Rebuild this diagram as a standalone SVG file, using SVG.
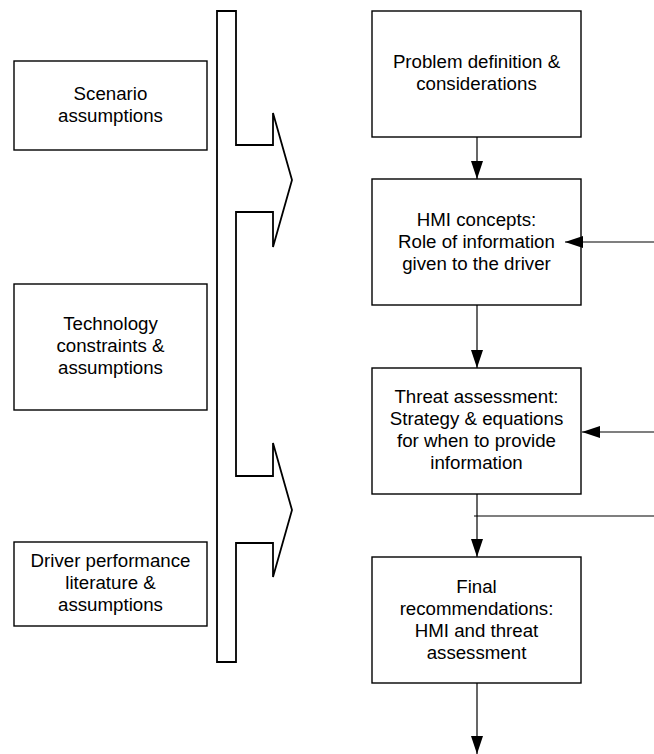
<svg xmlns="http://www.w3.org/2000/svg" width="654" height="754" viewBox="0 0 654 754">
<style>
.box{fill:#fff;stroke:#000;stroke-width:1.4}
.t{font-family:"Liberation Sans",Arial,sans-serif;font-size:18.7px;fill:#000;text-anchor:middle}
.c{fill:none;stroke:#000;stroke-width:1.2}
</style>
<defs>
<marker id="ah" viewBox="0 0 18 12" refX="18" refY="6" markerWidth="18" markerHeight="12" markerUnits="userSpaceOnUse" orient="auto">
<path d="M0,0 L18,6 L0,12 Z" fill="#000"/>
</marker>
</defs>
<rect width="654" height="754" fill="#fff"/>
<g id="bracket">
<path d="M217,11 H236 V145 H273 V113 L292,180 L273,247 V212 H236 V476 H273 V443 L292,510 L273,577 V543 H236 V662 H217 Z" fill="none" stroke="#000" stroke-width="1.8" stroke-linejoin="miter"/>
</g>
<g id="scenario">
<rect class="box" x="14" y="61" width="193" height="89"/>
<text class="t" x="110.5" y="100">Scenario</text>
<text class="t" x="110.5" y="122">assumptions</text>
</g>
<g id="technology">
<rect class="box" x="14" y="284" width="193" height="126"/>
<text class="t" x="110.5" y="330">Technology</text>
<text class="t" x="110.5" y="352">constraints &amp;</text>
<text class="t" x="110.5" y="374">assumptions</text>
</g>
<g id="driver">
<rect class="box" x="14" y="542" width="193" height="84"/>
<text class="t" x="110.5" y="567">Driver performance</text>
<text class="t" x="110.5" y="589">literature &amp;</text>
<text class="t" x="110.5" y="611">assumptions</text>
</g>
<g id="problem">
<rect class="box" x="372" y="11" width="209" height="126"/>
<text class="t" x="476.5" y="68">Problem definition &amp;</text>
<text class="t" x="476.5" y="90">considerations</text>
</g>
<g id="hmi">
<rect class="box" x="372" y="179" width="209" height="126"/>
<text class="t" x="476.5" y="226">HMI concepts:</text>
<text class="t" x="476.5" y="248">Role of information</text>
<text class="t" x="476.5" y="270">given to the driver</text>
</g>
<g id="threat">
<rect class="box" x="372" y="368" width="209" height="126"/>
<text class="t" x="476.5" y="403">Threat assessment:</text>
<text class="t" x="476.5" y="425">Strategy &amp; equations</text>
<text class="t" x="476.5" y="447">for when to provide</text>
<text class="t" x="476.5" y="469">information</text>
</g>
<g id="final">
<rect class="box" x="372" y="557" width="209" height="126"/>
<text class="t" x="476.5" y="593">Final</text>
<text class="t" x="476.5" y="615">recommendations:</text>
<text class="t" x="476.5" y="637">HMI and threat</text>
<text class="t" x="476.5" y="659">assessment</text>
</g>
<g id="connectors">
<line class="c" x1="477" y1="137" x2="477" y2="179" marker-end="url(#ah)"/>
<line class="c" x1="477" y1="305" x2="477" y2="368" marker-end="url(#ah)"/>
<line class="c" x1="477" y1="494" x2="477" y2="557" marker-end="url(#ah)"/>
<line class="c" x1="477" y1="683" x2="477" y2="754" marker-end="url(#ah)"/>
<line class="c" x1="654" y1="242" x2="565" y2="242" marker-end="url(#ah)"/>
<line class="c" x1="654" y1="432" x2="582" y2="432" marker-end="url(#ah)"/>
<line class="c" x1="474" y1="516" x2="654" y2="516"/>
</g>
</svg>
